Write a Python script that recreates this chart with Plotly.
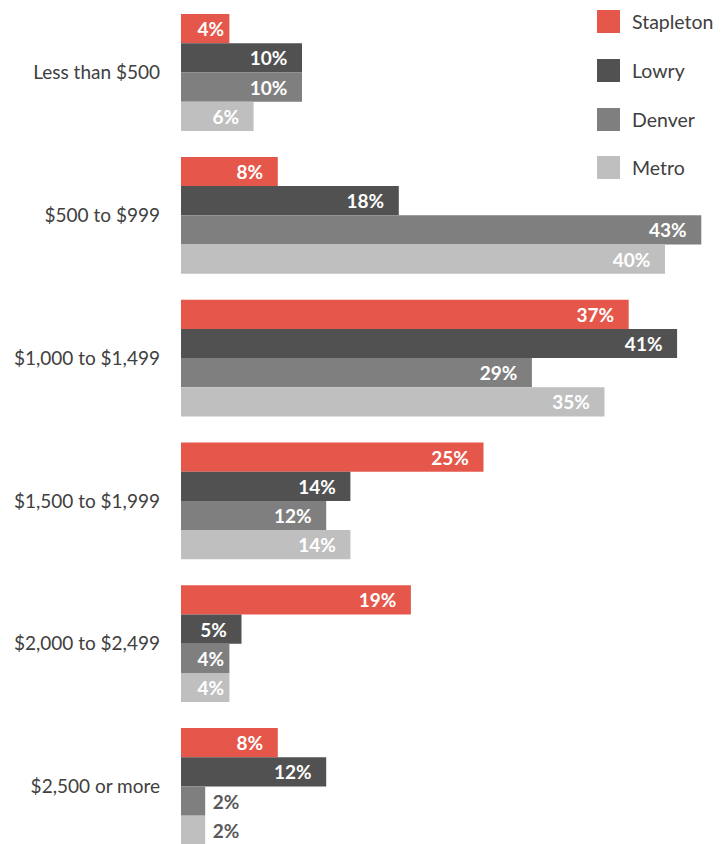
import plotly.graph_objects as go

# Monthly rent distribution by area
categories = ["Less than $500", "$500 to $999", "$1,000 to $1,499",
              "$1,500 to $1,999", "$2,000 to $2,499", "$2,500 or more"]
series_names = ["Stapleton", "Lowry", "Denver", "Metro"]
stapleton = [4, 8, 37, 25, 19, 8]
lowry = [10, 18, 41, 14, 5, 12]
denver = [10, 43, 29, 12, 4, 2]
metro = [6, 40, 35, 14, 4, 2]
series_values = [stapleton, lowry, denver, metro]
colors = ["#E5574A", "#515151", "#7F7F7F", "#BFBFBF"]

W, H = 721, 844
ML, MR, MT, MB = 181, 0, 0, 0
PX_PER_PCT = 12.1
FONT = "Lato"
NB = "\u00a0"
THIN = "\u2009"


def bar_label(v):
    """Label text with trailing/leading spacing to set the gap from the bar end."""
    if v < 3:
        return f"{NB}{v}%"
    if v <= 4:
        return f"{v}%{THIN}"
    return f"{v}%{NB * 2}{THIN}"


fig = go.Figure()
for name, vals, col in zip(series_names, series_values, colors):
    fig.add_trace(go.Bar(
        y=categories, x=vals, name=name, orientation="h",
        marker=dict(color=col, line=dict(width=0)),
        text=[bar_label(v) for v in vals],
        textposition=["inside" if v >= 3 else "outside" for v in vals],
        insidetextanchor="end",
        insidetextfont=dict(family=FONT, size=19, color="white", weight="bold"),
        outsidetextfont=dict(family=FONT, size=19, color="#595959", weight="bold"),
        textangle=0, constraintext="none", cliponaxis=False,
        showlegend=False,
    ))

plot_w = W - ML - MR
# group pitch 142.8 px, first group centre at 72.5 px from top
pitch, c0 = 142.8, 72.5
y_top = (0 - c0) / pitch
y_bot = (H - c0) / pitch

fig.update_layout(
    width=W, height=H,
    margin=dict(l=ML, r=MR, t=MT, b=MB),
    paper_bgcolor="white", plot_bgcolor="white",
    barmode="group", bargap=26 / pitch, bargroupgap=0,
    font=dict(family=FONT, size=19, color="#404040"),
    xaxis=dict(range=[0, plot_w / PX_PER_PCT], visible=False, fixedrange=True),
    yaxis=dict(range=[y_bot, y_top], showgrid=False, zeroline=False,
               showline=False, ticks="", ticklabelstandoff=20,
               tickfont=dict(family=FONT, size=19, color="#404040")),
)

# legend drawn as squares and labels
def px_x(x):
    return (x - ML) / plot_w

def px_y(y):
    return 1 - (y - MT) / (H - MT - MB)

legend_tops = [10, 59, 108, 156]
for name, col, top in zip(series_names, colors, legend_tops):
    fig.add_shape(type="rect", xref="paper", yref="paper",
                  x0=px_x(597), x1=px_x(620), y0=px_y(top + 23), y1=px_y(top),
                  fillcolor=col, line=dict(width=0))
    fig.add_annotation(xref="paper", yref="paper", x=px_x(630), y=px_y(top + 11.5),
                       text=name, showarrow=False, xanchor="left", yanchor="middle",
                       font=dict(family=FONT, size=19.5, color="#404040"))

fig.write_html("out.html")
